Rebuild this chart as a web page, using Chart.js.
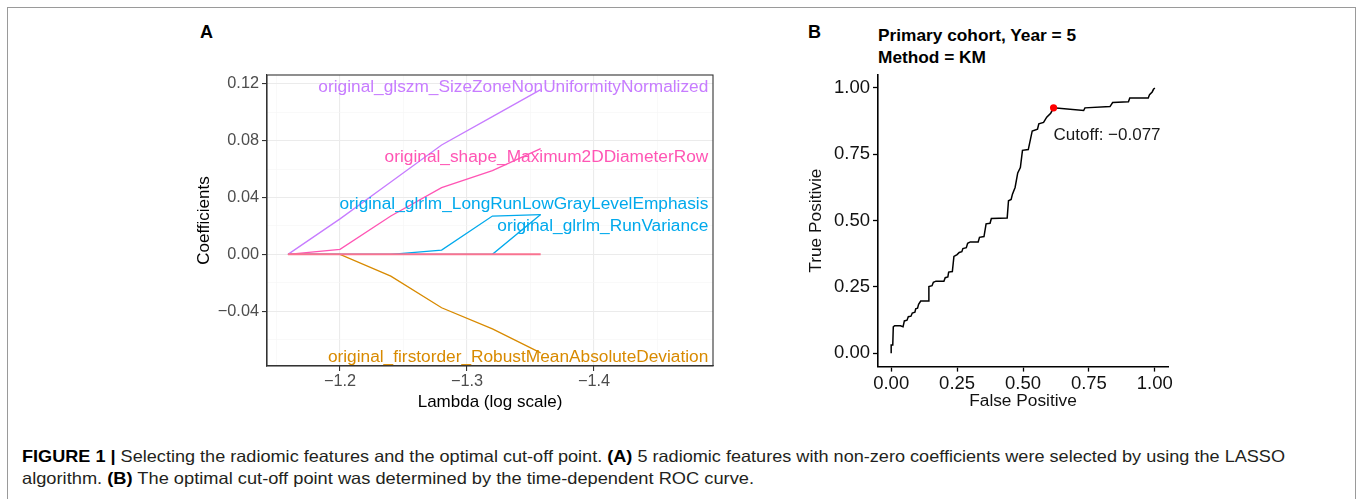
<!DOCTYPE html>
<html><head><meta charset="utf-8">
<script src="https://cdn.jsdelivr.net/npm/chart.js@4.4.1/dist/chart.umd.min.js"></script>
<style>
html,body{margin:0;padding:0;background:#fff}
body{width:1357px;height:499px;overflow:hidden;position:relative;font-family:"Liberation Sans",Arial,Helvetica,sans-serif}
#frame{position:absolute;left:7px;top:7px;width:1349px;height:520px;border:1.5px solid #9a9a9a;border-bottom:none;box-sizing:border-box}
.box{position:absolute}
.letter{position:absolute;font-weight:bold;font-size:18px;color:#000;line-height:20px}
.ttl{position:absolute;font-weight:bold;font-size:17.3px;color:#000;line-height:20px;white-space:nowrap}
.cap{position:absolute;left:22px;font-size:16.5px;line-height:22px;color:#231f20;white-space:nowrap;transform-origin:0 50%}
.cap b{color:#000}
</style></head>
<body>
<div id="frame"></div>
<div class="letter" style="left:200px;top:22px">A</div>
<div class="letter" style="left:808px;top:22px">B</div>
<div class="ttl" style="left:878px;top:25px">Primary cohort, Year = 5</div>
<div class="ttl" style="left:878px;top:47px">Method = KM</div>
<div class="box" style="left:180px;top:60px;width:545px;height:360px"><canvas id="cA"></canvas></div>
<div class="box" style="left:790px;top:60px;width:400px;height:360px"><canvas id="cB"></canvas></div>
<div class="cap" id="cap1" style="top:445px"><b>FIGURE 1 |</b> Selecting the radiomic features and the optimal cut-off point. <b>(A)</b> 5 radiomic features with non-zero coefficients were selected by using the LASSO</div>
<div class="cap" id="cap2" style="top:467px">algorithm. <b>(B)</b> The optimal cut-off point was determined by the time-dependent ROC curve.</div>
<script>
// ---------- Panel A data ----------
const lambdaPath = [-1.159, -1.2, -1.24, -1.28, -1.32, -1.358];
const coefOthers = [0, 0, 0, 0, 0, 0];
const coefSizeZone = [0, 0.025, 0.051, 0.077, 0.097, 0.116];
const coefMaxDiameter = [0, 0.0035, 0.027, 0.047, 0.059, 0.0745];
const coefLongRunLow = [0, 0, 0, 0.003, 0.027, 0.028];
const coefRunVariance = [0, 0, 0, 0, 0, 0.028];
const coefRobustMAD = [0, 0, -0.0153, -0.0376, -0.0525, -0.0694];
const featureNames = [
  "original_glszm_SizeZoneNonUniformityNormalized",
  "original_shape_Maximum2DDiameterRow",
  "original_glrlm_LongRunLowGrayLevelEmphasis",
  "original_glrlm_RunVariance",
  "original_firstorder_RobustMeanAbsoluteDeviation"
];
const featureLabelY = [0.118, 0.0682, 0.0353, 0.0195, -0.0725];
const featureLabelLambda = -1.49;
const yTicksA = [-0.06, -0.04, -0.02, 0, 0.02, 0.04, 0.06, 0.08, 0.10, 0.12];
const yMajorA = [-0.04, 0, 0.04, 0.08, 0.12];
const xTicksA = [-1.15, -1.2, -1.25, -1.3, -1.35, -1.4, -1.45];
const xMajorA = [-1.2, -1.3, -1.4];

// ---------- Panel B data ----------
const rocFPR = [0,0,0.006,0.008,0.013,0.035,0.045,0.05,0.06,0.065,0.075,0.08,0.09,0.093,0.1,0.104,0.112,0.14,0.143,0.155,0.16,0.17,0.2,0.205,0.215,0.218,0.232,0.238,0.25,0.258,0.268,0.272,0.285,0.29,0.3,0.33,0.335,0.352,0.36,0.375,0.38,0.44,0.445,0.455,0.46,0.47,0.48,0.49,0.498,0.52,0.535,0.555,0.56,0.578,0.59,0.605,0.616,0.73,0.735,0.83,0.84,0.9,0.905,0.975,0.98,0.99,0.995,1];
const rocTPR = [0,0.031,0.031,0.1,0.104,0.104,0.1,0.122,0.125,0.138,0.14,0.152,0.155,0.168,0.17,0.185,0.197,0.197,0.252,0.255,0.268,0.272,0.272,0.285,0.288,0.306,0.308,0.365,0.372,0.38,0.383,0.395,0.398,0.415,0.42,0.42,0.437,0.44,0.488,0.49,0.508,0.51,0.575,0.58,0.6,0.625,0.68,0.7,0.765,0.768,0.838,0.845,0.865,0.87,0.89,0.905,0.925,0.915,0.925,0.93,0.945,0.948,0.962,0.962,0.975,0.985,0.995,1];
const cutoffPoint = [0.616, 0.925];
const cutoffText = "Cutoff: \u22120.077";
const cutoffTextPos = [0.616, 0.823];
const ticksB = [0, 0.25, 0.5, 0.75, 1];

// ---------- helpers ----------
const FONT = '"Liberation Sans", Arial, Helvetica, sans-serif';
const near = (a, list) => list.some(v => Math.abs(v - a) < 1e-6);
const fmt = (v, d) => (v < -1e-9 ? '\u2212' : '') + Math.abs(v).toFixed(d);
const pts = (xs, ys) => xs.map((x, i) => ({x, y: ys[i]}));

const colZero = '#F97390', colPurple = '#C77CFF', colPink = '#FF55B4', colBlue = '#00A9EC', colOrange = '#D88A00';
const featureColors = [colPurple, colPink, colBlue, colBlue, colOrange];

const labelPlugin = {
  id: 'featLabels',
  afterDatasetsDraw(chart) {
    const {ctx, scales: {x, y}} = chart;
    ctx.save();
    ctx.font = '17.3px ' + FONT;
    ctx.textAlign = 'right';
    ctx.textBaseline = 'middle';
    featureNames.forEach((n, i) => {
      ctx.fillStyle = featureColors[i];
      ctx.fillText(n, x.getPixelForValue(featureLabelLambda), y.getPixelForValue(featureLabelY[i]));
    });
    ctx.restore();
  }
};
const borderPlugin = {
  id: 'panelBorder',
  afterDraw(chart) {
    const a = chart.chartArea, ctx = chart.ctx;
    ctx.save();
    ctx.strokeStyle = '#333333';
    ctx.lineWidth = 1.1;
    ctx.strokeRect(a.left, a.top, a.right - a.left, a.bottom - a.top);
    ctx.restore();
  }
};

const lineDS = (data, color, w) => ({data, borderColor: color, backgroundColor: color, borderWidth: w, showLine: true, pointRadius: 0, tension: 0, fill: false});

new Chart(document.getElementById('cA'), {
  type: 'scatter',
  data: {datasets: [
    lineDS(pts(lambdaPath, coefOthers), colZero, 2),
    lineDS(pts(lambdaPath, coefSizeZone), colPurple, 1.3),
    lineDS(pts(lambdaPath, coefMaxDiameter), colPink, 1.3),
    lineDS(pts(lambdaPath, coefLongRunLow), colBlue, 1.3),
    lineDS(pts(lambdaPath, coefRunVariance), colBlue, 1.3),
    lineDS(pts(lambdaPath, coefRobustMAD), colOrange, 1.3)
  ]},
  options: {
    responsive: true, maintainAspectRatio: false, animation: false, devicePixelRatio: 1,
    layout: {padding: {top: 15, right: 12, left: 0, bottom: 0}},
    plugins: {legend: {display: false}, tooltip: {enabled: false}},
    scales: {
      x: {
        type: 'linear', reverse: true, min: -1.4937, max: -1.1425,
        afterBuildTicks(s) { s.ticks = xTicksA.map(v => ({value: v})); },
        afterFit(s) { s.height = 54; },
        ticks: {autoSkip: false, maxRotation: 0, padding: 1, color: '#4D4D4D', font: {family: FONT, size: 16.3},
          callback: v => near(v, xMajorA) ? fmt(v, 1) : ''},
        grid: {color: c => near(c.tick.value, xMajorA) ? '#EBEBEB' : '#F5F5F5',
               lineWidth: c => near(c.tick.value, xMajorA) ? 1.1 : 0.6,
               tickColor: c => near(c.tick.value, xMajorA) ? '#333333' : 'rgba(0,0,0,0)',
               tickLength: 5, tickWidth: 1.1},
        border: {display: true, color: '#333333', width: 1.1},
        title: {display: true, text: 'Lambda (log scale)', color: '#000', font: {family: FONT, size: 17}, padding: {top: 0, bottom: 7}}
      },
      y: {
        type: 'linear', min: -0.0786, max: 0.1263,
        afterBuildTicks(s) { s.ticks = yTicksA.map(v => ({value: v})); },
        afterFit(s) { s.width = 87; },
        ticks: {autoSkip: false, padding: 3, color: '#4D4D4D', font: {family: FONT, size: 16.3},
          callback: v => near(v, yMajorA) ? fmt(v, 2) : ''},
        grid: {color: c => near(c.tick.value, yMajorA) ? '#EBEBEB' : '#F5F5F5',
               lineWidth: c => near(c.tick.value, yMajorA) ? 1.1 : 0.6,
               tickColor: c => near(c.tick.value, yMajorA) ? '#333333' : 'rgba(0,0,0,0)',
               tickLength: 5, tickWidth: 1.1},
        border: {display: true, color: '#333333', width: 1.1},
        title: {display: true, text: 'Coefficients', color: '#000', font: {family: FONT, size: 17}, padding: {top: 14, bottom: 0}}
      }
    }
  },
  plugins: [labelPlugin, borderPlugin]
});

const cutoffPlugin = {
  id: 'cutoffLabel',
  afterDatasetsDraw(chart) {
    const {ctx, scales: {x, y}} = chart;
    ctx.save();
    ctx.font = '17px ' + FONT;
    ctx.fillStyle = '#1a1a1a';
    ctx.textAlign = 'left';
    ctx.textBaseline = 'middle';
    ctx.fillText(cutoffText, x.getPixelForValue(cutoffTextPos[0]), y.getPixelForValue(cutoffTextPos[1]));
    ctx.restore();
  }
};

const axisB = (title, isY) => ({
  type: 'linear', min: -0.05, max: 1.05,
  afterBuildTicks(s) { s.ticks = ticksB.map(v => ({value: v})); },
  afterFit(s) { if (isY) s.width = 88; else s.height = 53.4; },
  ticks: {autoSkip: false, maxRotation: 0, padding: isY ? 3 : 1, color: '#111', font: {family: FONT, size: 18.5}, callback: v => fmt(v, 2)},
  grid: {display: true, drawOnChartArea: false, tickLength: 5, tickColor: '#000', tickWidth: 1.3},
  border: {display: true, color: '#000', width: 1.6},
  title: {display: true, text: title, color: '#111', font: {family: FONT, size: 17.3}, padding: isY ? {top: 16, bottom: 0} : {top: 0, bottom: 8}}
});

new Chart(document.getElementById('cB'), {
  type: 'scatter',
  data: {datasets: [
    {data: [{x: cutoffPoint[0], y: cutoffPoint[1]}], pointRadius: 3.6, pointBackgroundColor: '#FF0000', pointBorderWidth: 0, showLine: false},
    lineDS(pts(rocFPR, rocTPR), '#000000', 1.5)
  ]},
  options: {
    responsive: true, maintainAspectRatio: false, animation: false, devicePixelRatio: 1,
    layout: {padding: {top: 14.7, right: 22, left: 0, bottom: 0}},
    plugins: {legend: {display: false}, tooltip: {enabled: false}},
    scales: {x: axisB('False Positive', false), y: axisB('True Positivie', true)}
  },
  plugins: [cutoffPlugin]
});

// fit caption lines to the figure's condensed caption width
function fitCap(id, target) {
  const el = document.getElementById(id);
  const w = el.getBoundingClientRect().width;
  el.style.transform = 'scaleX(' + (target / w) + ')';
}
fitCap('cap1', 1263);
fitCap('cap2', 732);
</script>
</body></html>
